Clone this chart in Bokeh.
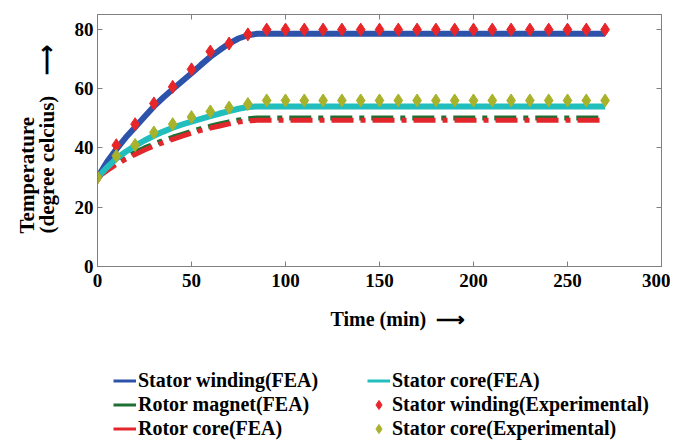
from bokeh.plotting import figure
from bokeh.layouts import column
from bokeh.models import (Range1d, LinearAxis, FixedTicker, Legend, LegendItem, Title)
from bokeh.embed import file_html
from bokeh.resources import INLINE

# ---------------- data ----------------
t_fea = [0, 5, 10, 15, 20, 25, 30, 35, 40, 45, 50, 55, 60, 65, 70, 75, 80, 85, 270]
stator_winding_fea = [30, 35.2, 39.5, 43.5, 47.0, 50.5, 54.0, 57.0, 59.8, 62.5, 65.2, 68.0,
                      70.7, 73.0, 75.2, 76.9, 78.0, 78.5, 78.5]
stator_core_fea = [30, 33.4, 36.4, 38.7, 40.7, 42.5, 44.1, 45.5, 46.8, 47.9, 48.9, 49.8,
                   50.7, 51.6, 52.4, 53.2, 53.8, 54.0, 54.0]
rotor_magnet_fea = [30, 32.8, 35.0, 36.9, 38.5, 40.0, 41.3, 42.5, 43.6, 44.6, 45.6, 46.5,
                    47.3, 48.1, 48.8, 49.4, 49.8, 50.1, 50.1]
rotor_core_fea = [30, 32.3, 34.4, 36.2, 37.8, 39.3, 40.6, 41.8, 42.9, 44.0, 45.0, 45.9,
                  46.7, 47.4, 48.1, 48.7, 49.1, 49.3, 49.3]

t_exp = [0, 10, 20, 30, 40, 50, 60, 70, 80, 90, 100, 110, 120, 130, 140, 150, 160, 170,
         180, 190, 200, 210, 220, 230, 240, 250, 260, 270]
stator_winding_exp = [30, 40.9, 48.0, 55.0, 60.6, 66.5, 72.5, 75.2, 78.3, 79.9, 79.9, 79.9,
                      79.9, 79.9, 79.9, 79.9, 79.9, 79.9, 79.9, 79.9, 79.9, 79.9, 79.9, 79.9,
                      79.9, 79.9, 79.9, 79.9]
stator_core_exp = [30, 37.3, 41.0, 45.2, 48.0, 50.4, 52.3, 53.6, 54.8, 56.0, 56.0, 56.0,
                   56.0, 56.0, 56.0, 56.0, 56.0, 56.0, 56.0, 56.0, 56.0, 56.0, 56.0, 56.0,
                   56.0, 56.0, 56.0, 56.0]

x_ticks = [0, 50, 100, 150, 200, 250, 300]
y_ticks = [0, 20, 40, 60, 80]

# ---------------- style ----------------
FONT = "Liberation Serif"
GREY = "#808080"
C_BLUE = "#2C52AA"
C_CYAN = "#22BDBD"
C_GREEN = "#1F6F33"
C_RED = "#E3262B"
C_REDM = "#E8262A"
C_YEL = "#A8B22A"

W = 670
p = figure(width=W, height=356, output_backend="svg", toolbar_location=None,
           x_range=Range1d(0, 300), y_range=Range1d(0, 85),
           min_border_left=97, min_border_right=9, min_border_top=14, min_border_bottom=90)
p.grid.visible = False
p.outline_line_color = GREY
p.outline_line_width = 1

for ax, ticks in ((p.xaxis[0], x_ticks), (p.yaxis[0], y_ticks)):
    ax.ticker = FixedTicker(ticks=ticks)
    ax.axis_line_color = GREY
    ax.major_tick_line_color = GREY
    ax.major_tick_in = 5
    ax.major_tick_out = 0
    ax.minor_tick_line_color = None
    ax.major_label_text_font = FONT
    ax.major_label_text_font_style = "bold"
    ax.major_label_text_font_size = "19px"
    ax.major_label_text_color = "black"
p.xaxis[0].major_label_standoff = 7
p.yaxis[0].major_label_standoff = 4

for ticks, side in ((y_ticks, "right"), (x_ticks, "above")):
    ax = LinearAxis(ticker=FixedTicker(ticks=ticks), major_label_text_font_size="0px",
                    major_label_standoff=0, major_tick_in=5, major_tick_out=0,
                    minor_tick_line_color=None, axis_line_color=GREY,
                    major_tick_line_color=GREY)
    p.add_layout(ax, side)

# ---------------- series ----------------
DASHDOT = "22 7 5 7"
p.line(t_fea, stator_winding_fea, line_color=C_BLUE, line_width=6)
p.line(t_fea, rotor_magnet_fea, line_color=C_GREEN, line_width=5, line_dash=DASHDOT)
p.line(t_fea, rotor_core_fea, line_color=C_RED, line_width=5, line_dash=DASHDOT)
p.line(t_fea, stator_core_fea, line_color=C_CYAN, line_width=6)
p.scatter(t_exp, stator_winding_exp, marker="diamond", size=13, fill_color=C_REDM,
          line_color=C_REDM)
p.scatter(t_exp, stator_core_exp, marker="diamond", size=13, fill_color=C_YEL,
          line_color=C_YEL)

# ---------------- axis titles ----------------
tstyle = dict(text_font=FONT, text_font_style="bold", text_color="black")
p.add_layout(Title(text="Temperature\n(degree celcius)\u2003\u27f6", align="left",
                   offset=33, standoff=24, text_font_size="21px", text_line_height=0.85,
                   **tstyle), "left")
p.add_layout(Title(text="Time (min)\u2002\u27f6", align="left", offset=233, standoff=32,
                   text_font_size="20px", **tstyle), "below")

# ---------------- legend (separate strip below the chart) ----------------
q = figure(width=W, height=86, output_backend="svg", toolbar_location=None,
           x_range=Range1d(0, 1), y_range=Range1d(0, 1), x_axis_type=None,
           y_axis_type=None, min_border=0, outline_line_color=None)
q.grid.visible = False
off = [-5]
lg_sw = q.line(off, off, line_color=C_BLUE, line_width=3)
lg_rm = q.line(off, off, line_color=C_GREEN, line_width=3)
lg_rc = q.line(off, off, line_color=C_RED, line_width=3)
lg_sc = q.line(off, off, line_color=C_CYAN, line_width=3)
lg_swe = q.scatter(off, off, marker="diamond", size=4, fill_color=C_REDM, line_color=C_REDM)
lg_sce = q.scatter(off, off, marker="diamond", size=4, fill_color=C_YEL, line_color=C_YEL)


def make_legend(items, loc):
    lg = Legend(items=items, location=loc, orientation="vertical",
                border_line_color=None, background_fill_alpha=0, padding=0, margin=0,
                spacing=1, label_standoff=2, glyph_width=23, glyph_height=23,
                label_height=23, label_text_font=FONT, label_text_font_style="bold",
                label_text_font_size="20px", label_text_color="black")
    q.add_layout(lg, "center")


make_legend([LegendItem(label="Stator winding(FEA)", renderers=[lg_sw]),
             LegendItem(label="Rotor magnet(FEA)", renderers=[lg_rm]),
             LegendItem(label="Rotor core(FEA)", renderers=[lg_rc])], (16, 2))
make_legend([LegendItem(label="Stator core(FEA)", renderers=[lg_sc]),
             LegendItem(label="Stator winding(Experimental)", renderers=[lg_swe]),
             LegendItem(label="Stator core(Experimental)", renderers=[lg_sce])], (270, 2))

open("out.html", "w").write(file_html(column(p, q, spacing=0), INLINE))
